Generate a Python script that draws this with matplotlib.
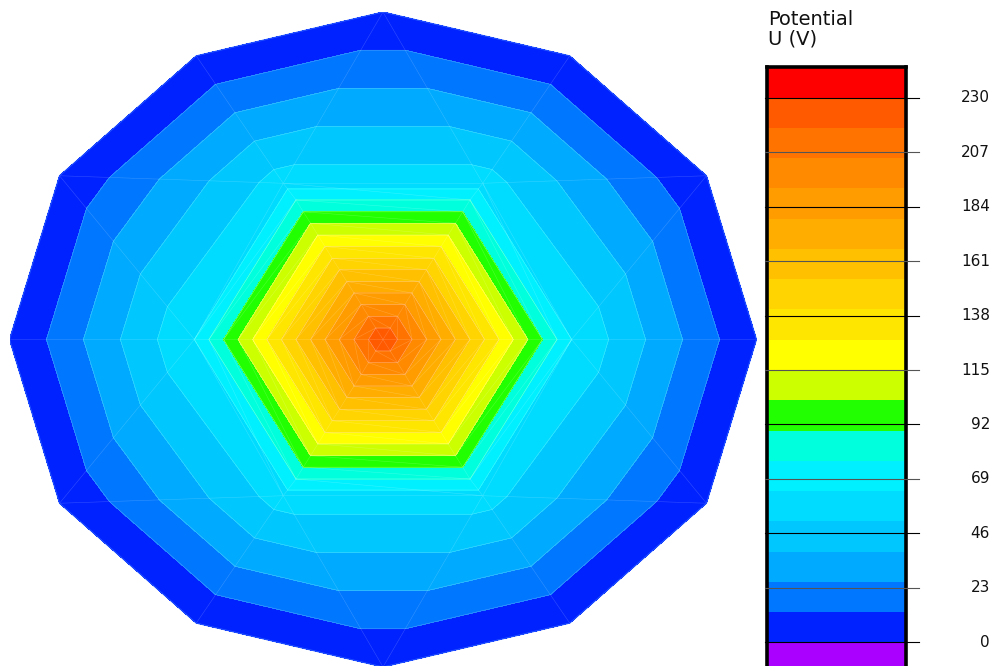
import numpy as np
import matplotlib
matplotlib.use("Agg")
import matplotlib.pyplot as plt
import matplotlib.tri as mtri
from matplotlib.patches import Polygon

# ---- colour scale -------------------------------------------------------
levels = [0.0, 12.78, 25.56, 38.33, 51.11, 63.89, 76.67, 89.44, 102.22,
          115.0, 127.78, 140.56, 153.33, 166.11, 178.89, 191.67, 204.44,
          217.22, 230.0]
band_colors = ["#0022ff", "#0077ff", "#00aaff", "#00c8ff", "#00dcff",
               "#00f0ff", "#00ffdd", "#22ff00", "#ccff00", "#ffff00",
               "#ffe600", "#ffd400", "#ffc000", "#ffae00", "#ff9c00",
               "#ff8a00", "#ff7400", "#ff5a00"]
under_color = "#aa00ff"
over_color = "#ff0000"
tick_values = [0, 23, 46, 69, 92, 115, 138, 161, 184, 207, 230]
tick_labels = ["0", "23", "46", "69", "92", "115", "138", "161", "184", "207", "230"]

# ---- nodal solution of the potential ------------------------------------
center_u = 230.0
# hexagonal rings around the centre electrode
hex_ring_u = [217.2, 204.4, 191.7, 178.9, 166.1, 153.3, 140.6, 127.8,
              115.0, 102.2, 89.4, 76.7]
hex_ring_halfwidth = [0.039, 0.078, 0.117, 0.155, 0.194, 0.233, 0.272,
                      0.311, 0.349, 0.388, 0.427, 0.466]
hex_ring_height = [0.035, 0.071, 0.107, 0.142, 0.177, 0.213, 0.248,
                   0.284, 0.319, 0.355, 0.390, 0.426]
# transition ring (nodes at 0, 60, ..., 300 degrees)
mid_ring_u = [63.9, 57.3, 57.3, 63.9, 57.3, 57.3]
mid_ring_x = [0.505, 0.267, -0.267, -0.505, -0.267, 0.267]
mid_ring_y = [0.0, 0.477, 0.477, 0.0, -0.477, -0.477]
# outer dodecagon boundary (grounded)
outer_u = 0.0
outer_n = 12

# ---- build the mesh -----------------------------------------------------
hex_dx = [1.0, 0.5, -0.5, -1.0, -0.5, 0.5]
hex_dy = [0.0, 1.0, 1.0, 0.0, -1.0, -1.0]

xs, ys, us = [0.0], [0.0], [center_u]
rings = [[0]]
for a, h, u in zip(hex_ring_halfwidth, hex_ring_height, hex_ring_u):
    idx = []
    for dx, dy in zip(hex_dx, hex_dy):
        idx.append(len(xs))
        xs.append(a * dx); ys.append(h * dy); us.append(u)
    rings.append(idx)
idx = []
for x, y, u in zip(mid_ring_x, mid_ring_y, mid_ring_u):
    idx.append(len(xs))
    xs.append(x); ys.append(y); us.append(u)
rings.append(idx)
outer_idx = []
for i in range(outer_n):
    ang = np.deg2rad(30 * i)
    outer_idx.append(len(xs))
    xs.append(np.cos(ang)); ys.append(np.sin(ang)); us.append(outer_u)

tris = []
r1 = rings[1]
for j in range(6):
    tris.append([0, r1[j], r1[(j + 1) % 6]])
for k in range(1, len(rings) - 1):
    a, b = rings[k], rings[k + 1]
    for j in range(6):
        jn = (j + 1) % 6
        tris.append([a[j], b[j], b[jn]])
        tris.append([a[j], b[jn], a[jn]])
mid = rings[-1]
for m in range(6):
    o0 = outer_idx[2 * m]
    o1 = outer_idx[2 * m + 1]
    o2 = outer_idx[(2 * m + 2) % outer_n]
    n0, n1 = mid[m], mid[(m + 1) % 6]
    tris.append([o0, o1, n0])
    tris.append([o1, o2, n1])
    tris.append([o1, n0, n1])

tri = mtri.Triangulation(np.array(xs), np.array(ys), np.array(tris))
U = np.array(us)

# ---- figure -------------------------------------------------------------
W, H = 998, 666
fig = plt.figure(figsize=(W / 100, H / 100), dpi=100)
fig.patch.set_facecolor("white")

cx, cy, rx, ry = 383.0, 339.5, 373.5, 327.5
ax = fig.add_axes([(cx - rx) / W, (H - (cy + ry)) / H, 2 * rx / W, 2 * ry / H])
ax.set_xlim(-1, 1)
ax.set_ylim(-1, 1)
ax.axis("off")

cs = ax.tricontourf(tri, U, levels=levels, colors=band_colors, extend="both")
cs.cmap.set_under(under_color)
cs.cmap.set_over(over_color)
ax.tricontour(tri, U, levels=levels[1:-1], colors="white", linewidths=0.4, alpha=0.3)
ax.triplot(tri, color="white", lw=0.4, alpha=0.2)
outline = Polygon(np.column_stack([np.array(xs)[outer_idx], np.array(ys)[outer_idx]]),
                  closed=True, fill=False, edgecolor="#1f50ff", lw=0.8)
ax.add_patch(outline)

# ---- colour bar ---------------------------------------------------------
step = levels[1] - levels[0]
cb_lo, cb_hi = levels[0] - step, levels[-1] + step
px_per_unit = (642.3 - 97.7) / 230.0
cb_top_px = 97.7 - step * px_per_unit
cb_bot_px = 642.3 + step * px_per_unit
cb_left, cb_right = 767.0, 906.0
cax = fig.add_axes([cb_left / W, (H - cb_bot_px) / H,
                    (cb_right - cb_left) / W, (cb_bot_px - cb_top_px) / H])
cax.set_xlim(0, 1)
cax.set_ylim(cb_lo, cb_hi)
for lo, hi, c in zip(levels[:-1], levels[1:], band_colors):
    cax.bar(0.5, hi - lo, width=1.0, bottom=lo, color=c, linewidth=0)
cax.bar(0.5, step, width=1.0, bottom=cb_lo, color=under_color, linewidth=0)
cax.bar(0.5, step, width=1.0, bottom=levels[-1], color=over_color, linewidth=0)
cax.set_xticks([])
cax.set_yticks([])
for sp in cax.spines.values():
    sp.set_linewidth(2.6)
    sp.set_color("black")
for i, (v, lab) in enumerate(zip(tick_values, tick_labels)):
    cax.plot([-0.015, 1.094], [v, v], color="black" if i % 2 == 0 else "#555555",
             lw=0.8, clip_on=False, zorder=5)
    cax.text(1.604, v, lab, transform=cax.get_yaxis_transform(), ha="right",
             va="center", fontsize=11, family="DejaVu Sans", color="#111111")

fig.text(768 / W, 1 - 10 / H, "Potential\nU (V)", ha="left", va="top",
         fontsize=14, family="DejaVu Sans", linespacing=1.05, color="#111111")

fig.savefig("out.png", dpi=100)
